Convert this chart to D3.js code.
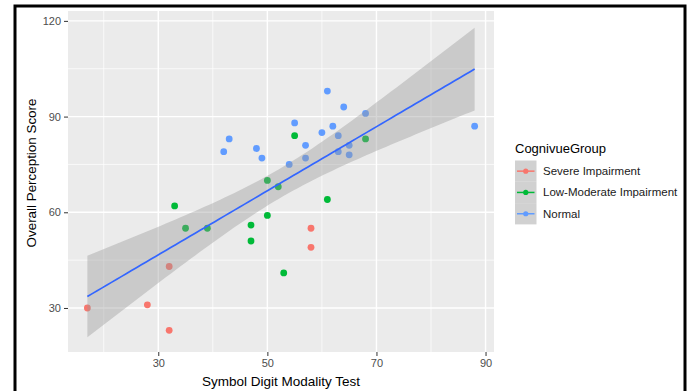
<!DOCTYPE html>
<html>
<head>
    <title>Overall Perception vs SDMT</title>
    <script src="https://d3js.org/d3.v7.min.js"></script>
    <style>
        body { margin: 0; background: #ffffff; }
        text { font-family: "Liberation Sans", Arial, sans-serif; }
        .tick text { fill: #4d4d4d; font-size: 11px; }
        .tick line { stroke: #333333; }
    </style>
</head>
<body>
<div id="svg_container"></div>
<script>
    const width = 695;
    const height = 391;

    // data: [Symbol Digit Modality Test, Overall Perception Score]
    const groups = ["Severe Impairment", "Low-Moderate Impairment", "Normal"];
    const groupColors = ["#F8766D", "#00BA38", "#619CFF"];

    const severe = [[17, 30], [28, 31], [32, 23], [32, 43], [58, 55], [58, 49]];
    const lowModerate = [[33, 62], [35, 55], [39, 55], [47, 56], [47, 51], [50, 70], [50, 59],
        [52, 68], [53, 41], [55, 84], [61, 64], [68, 83]];
    const normal = [[42, 79], [43, 83], [48, 80], [49, 77], [54, 75], [55, 88], [57, 81], [57, 77],
        [60, 85], [61, 98], [62, 87], [63, 84], [63, 79], [64, 93], [65, 81], [65, 78], [68, 91], [88, 87]];

    const xTicks = [30, 50, 70, 90];
    const xMinor = [20, 40, 60, 80];
    const yTicks = [30, 60, 90, 120];
    const yMinor = [45, 75, 105];

    const xDomain = [13.45, 91.55];
    const yDomain = [16.2, 123.1];
    const tCrit = 2.032; // 95%, df = 34

    // panel box
    const panel = {left: 68, top: 11, right: 494, bottom: 352};

    const svg = d3.select("#svg_container")
        .append("svg")
        .attr("width", width)
        .attr("height", height);

    svg.append("rect")
        .attr("x", 15).attr("y", 6)
        .attr("width", 670).attr("height", 400)
        .attr("fill", "#ffffff")
        .attr("stroke", "#000000")
        .attr("stroke-width", 3);

    const x = d3.scaleLinear().domain(xDomain).range([panel.left, panel.right]);
    const y = d3.scaleLinear().domain(yDomain).range([panel.bottom, panel.top]);

    svg.append("rect")
        .attr("x", panel.left).attr("y", panel.top)
        .attr("width", panel.right - panel.left)
        .attr("height", panel.bottom - panel.top)
        .attr("fill", "#EBEBEB");

    // grid
    const grid = svg.append("g");
    grid.selectAll(".xminor").data(xMinor).enter().append("line")
        .attr("x1", d => x(d)).attr("x2", d => x(d))
        .attr("y1", panel.top).attr("y2", panel.bottom)
        .attr("stroke", "#ffffff").attr("stroke-width", 0.7);
    grid.selectAll(".yminor").data(yMinor).enter().append("line")
        .attr("y1", d => y(d)).attr("y2", d => y(d))
        .attr("x1", panel.left).attr("x2", panel.right)
        .attr("stroke", "#ffffff").attr("stroke-width", 0.7);
    grid.selectAll(".xmajor").data(xTicks).enter().append("line")
        .attr("x1", d => x(d)).attr("x2", d => x(d))
        .attr("y1", panel.top).attr("y2", panel.bottom)
        .attr("stroke", "#ffffff").attr("stroke-width", 1.4);
    grid.selectAll(".ymajor").data(yTicks).enter().append("line")
        .attr("y1", d => y(d)).attr("y2", d => y(d))
        .attr("x1", panel.left).attr("x2", panel.right)
        .attr("stroke", "#ffffff").attr("stroke-width", 1.4);

    // points
    const seriesList = [severe, lowModerate, normal];
    const points = [];
    seriesList.forEach((s, i) => s.forEach(p => points.push({x: p[0], y: p[1], g: i})));

    svg.append("g").selectAll("circle")
        .data(points)
        .enter()
        .append("circle")
        .attr("cx", d => x(d.x))
        .attr("cy", d => y(d.y))
        .attr("r", 3.4)
        .attr("fill", d => groupColors[d.g]);

    // linear fit with 95% band (like geom_smooth(method = "lm"))
    const n = points.length;
    const mx = d3.mean(points, d => d.x);
    const my = d3.mean(points, d => d.y);
    const sxx = d3.sum(points, d => (d.x - mx) * (d.x - mx));
    const sxy = d3.sum(points, d => (d.x - mx) * (d.y - my));
    const slope = sxy / sxx;
    const intercept = my - slope * mx;
    const s2 = d3.sum(points, d => Math.pow(d.y - intercept - slope * d.x, 2)) / (n - 2);

    const xExt = d3.extent(points, d => d.x);
    const fit = d3.range(80).map(i => {
        const xv = xExt[0] + (xExt[1] - xExt[0]) * i / 79;
        const fv = intercept + slope * xv;
        const se = Math.sqrt(s2 * (1 / n + (xv - mx) * (xv - mx) / sxx));
        return {x: xv, y: fv, lo: fv - tCrit * se, hi: fv + tCrit * se};
    });

    svg.append("path")
        .datum(fit)
        .attr("d", d3.area().x(d => x(d.x)).y0(d => y(d.lo)).y1(d => y(d.hi)))
        .attr("fill", "#999999")
        .attr("fill-opacity", 0.4);

    svg.append("path")
        .datum(fit)
        .attr("d", d3.line().x(d => x(d.x)).y(d => y(d.y)))
        .attr("fill", "none")
        .attr("stroke", "#3366FF")
        .attr("stroke-width", 1.7);

    // axes
    const xAxis = svg.append("g")
        .attr("transform", "translate(0," + panel.bottom + ")")
        .call(d3.axisBottom(x).tickValues(xTicks).tickSize(4).tickPadding(3));
    xAxis.select(".domain").remove();

    const yAxis = svg.append("g")
        .attr("transform", "translate(" + panel.left + ",0)")
        .call(d3.axisLeft(y).tickValues(yTicks).tickSize(4).tickPadding(3));
    yAxis.select(".domain").remove();

    svg.append("text")
        .attr("x", (panel.left + panel.right) / 2)
        .attr("y", 386)
        .attr("text-anchor", "middle")
        .attr("font-size", "13.5px")
        .attr("fill", "#000000")
        .text("Symbol Digit Modality Test");

    svg.append("text")
        .attr("transform", "translate(36,173) rotate(-90)")
        .attr("text-anchor", "middle")
        .attr("font-size", "13.4px")
        .attr("fill", "#000000")
        .text("Overall Perception Score");

    // legend
    const legend = svg.append("g");
    legend.append("text")
        .attr("x", 515).attr("y", 152.5)
        .attr("font-size", "13px")
        .attr("fill", "#000000")
        .text("CognivueGroup");

    const keyH = 21.3;
    const keyTop = 160.5;
    const keys = legend.selectAll(".key")
        .data(groups)
        .enter()
        .append("g")
        .attr("transform", (d, i) => "translate(515," + (keyTop + i * keyH) + ")");

    keys.append("rect")
        .attr("width", 21.5).attr("height", keyH)
        .attr("fill", "#D1D1D1");
    keys.append("line")
        .attr("x1", 2).attr("x2", 19.5)
        .attr("y1", keyH / 2).attr("y2", keyH / 2)
        .attr("stroke", (d, i) => groupColors[i])
        .attr("stroke-width", 1.5);
    keys.append("circle")
        .attr("cx", 10.75).attr("cy", keyH / 2)
        .attr("r", 2.6)
        .attr("fill", (d, i) => groupColors[i]);
    keys.append("text")
        .attr("x", 28).attr("y", keyH / 2)
        .attr("dy", "0.35em")
        .attr("font-size", "11.5px")
        .attr("fill", "#1a1a1a")
        .text(d => d);
</script>
</body>
</html>
